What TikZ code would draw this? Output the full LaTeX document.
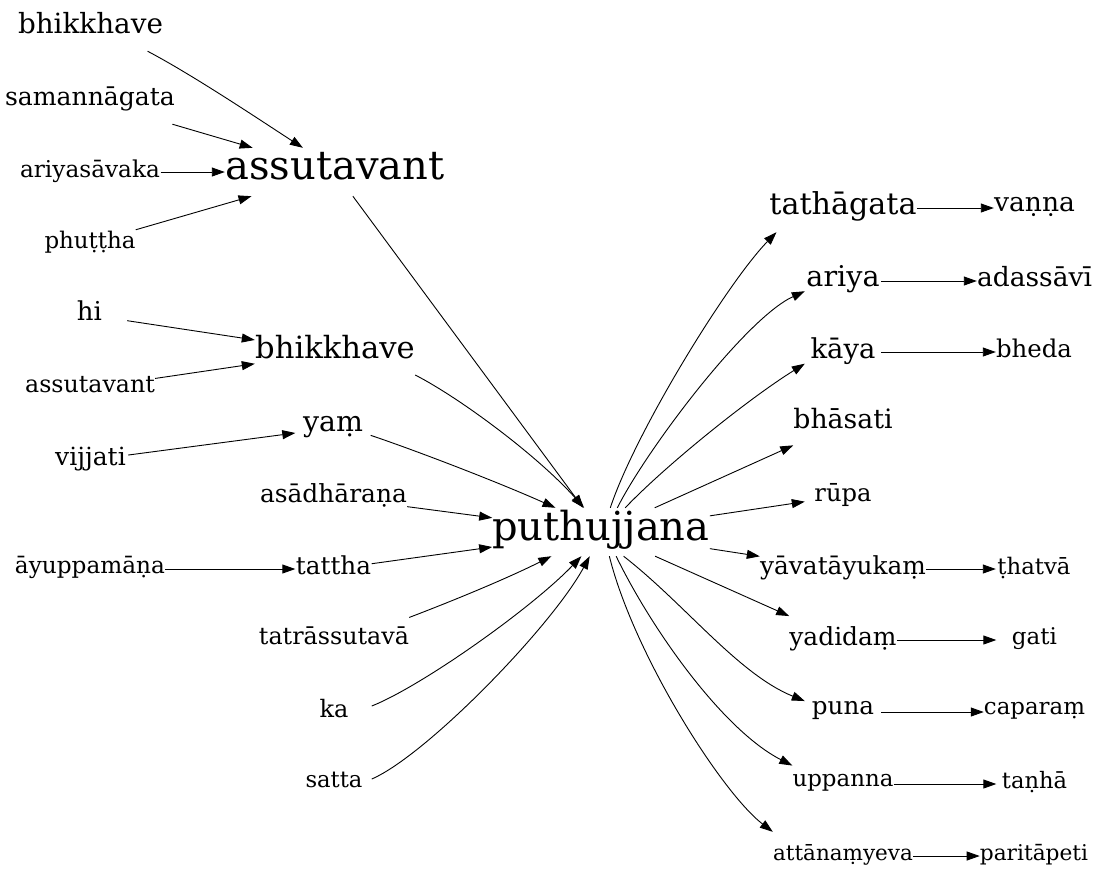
\documentclass[tikz,border=0pt]{standalone}
\usepackage{fontspec}
\setmainfont{DejaVu Serif}
\usetikzlibrary{arrows.meta}
\newcommand{\wsz}[2]{\fontsize{#1}{#1}\selectfont\rule[-0.32em]{0pt}{0.88em}#2}
\begin{document}
\begin{tikzpicture}[x=1pt,y=-1pt,
  wd/.style={inner sep=0pt, minimum height=48pt},
  arr/.style={-{Triangle[length=13pt,width=9pt]}, line width=0.9pt},
]
\useasboundingbox (0,0) rectangle (1099,887);
% left column
\node[wd,minimum width=145pt] (bk1) at (90.5,27) {\wsz{27.8}{bhikkhave}};
\node[wd,minimum width=170pt] (sam) at (90,100) {\wsz{25.1}{samannāgata}};
\node[wd,minimum width=141pt] (ari) at (90,172) {\wsz{23.2}{ariyasāvaka}};
\node[wd,minimum width=91pt] (phu) at (90,243) {\wsz{22.9}{phuṭṭha}};
\node[wd,minimum width=75pt] (hi) at (89.5,315) {\wsz{26}{hi}};
\node[wd,minimum width=130pt] (as2) at (90,388) {\wsz{23.7}{assutavant}};
\node[wd,minimum width=75pt] (vij) at (90.5,460) {\wsz{25}{vijjati}};
\node[wd,minimum width=150pt] (ayu) at (90,569) {\wsz{23.2}{āyuppamāṇa}};
% middle column
\node[wd,minimum width=220pt] (asv) at (335,172) {\wsz{40}{assutavant}};
\node[wd,minimum width=160pt] (bk2) at (335,352) {\wsz{30.6}{bhikkhave}};
\node[wd,minimum width=75pt] (yam) at (333,428) {\wsz{28.4}{yaṃ}};
\node[wd,minimum width=147pt] (asa) at (333.5,497) {\wsz{24.9}{asādhāraṇa}};
\node[wd,minimum width=76pt] (tat) at (333.5,569) {\wsz{24.7}{tattha}};
\node[wd,minimum width=150pt] (tra) at (334,639) {\wsz{23.8}{tatrāssutavā}};
\node[wd,minimum width=75pt] (ka) at (334,712) {\wsz{24}{ka}};
\node[wd,minimum width=75pt] (sat) at (334,783) {\wsz{22.7}{satta}};
% centre
\node[wd,minimum width=217pt] (P) at (601,532) {\wsz{40}{puthujjana}};
% right column
\node[wd,minimum width=147pt] (tg) at (843,208) {\wsz{30.2}{tathāgata}};
\node[wd,minimum width=76pt] (ar) at (843,281) {\wsz{28.6}{ariya}};
\node[wd,minimum width=76pt] (ky) at (843,352) {\wsz{27.4}{kāya}};
\node[wd,minimum width=99pt] (bs) at (843,423) {\wsz{26.7}{bhāsati}};
\node[wd,minimum width=76pt] (ru) at (843,496) {\wsz{24.2}{rūpa}};
\node[wd,minimum width=166pt] (yv) at (843,569) {\wsz{24.8}{yāvatāyukaṃ}};
\node[wd,minimum width=107pt] (yd) at (843,640) {\wsz{24.9}{yadidaṃ}};
\node[wd,minimum width=76pt] (pu) at (843,712) {\wsz{24.6}{puna}};
\node[wd,minimum width=101pt] (up) at (843,784) {\wsz{22.9}{uppanna}};
\node[wd,minimum width=140pt] (at) at (843,856) {\wsz{21.5}{attānaṃyeva}};
% far right column
\node[wd,minimum width=81pt] (vn) at (1034.5,208) {\wsz{26.6}{vaṇṇa}};
\node[wd,minimum width=115pt] (ad) at (1034.5,281) {\wsz{26.5}{adassāvī}};
\node[wd,minimum width=76pt] (bh) at (1034,352) {\wsz{24.4}{bheda}};
\node[wd,minimum width=76pt] (th) at (1034,569) {\wsz{22.8}{ṭhatvā}};
\node[wd,minimum width=76pt] (ga) at (1034.5,640) {\wsz{23}{gati}};
\node[wd,minimum width=101pt] (ca) at (1034.5,712) {\wsz{22.9}{caparaṃ}};
\node[wd,minimum width=76pt] (tn) at (1034.5,784) {\wsz{22.6}{taṇhā}};
\node[wd,minimum width=108pt] (pa) at (1034,856) {\wsz{21.7}{paritāpeti}};
% edges, left
\draw[arr] (bk1.337.4) .. controls (193,75) and (263,122) .. (asv.143.1);
\draw[arr] (sam) -- (asv);
\draw[arr] (ari) -- (asv);
\draw[arr] (phu) -- (asv);
\draw[arr] (asv) -- (P);
\draw[arr] (hi) -- (bk2);
\draw[arr] (as2) -- (bk2);
\draw[arr] (bk2.344) .. controls (460,398) and (538,456) .. (P.125.8);
\draw[arr] (vij) -- (yam);
\draw[arr] (yam.349.3) .. controls (420,452) and (500,483) .. (P.152.4);
\draw[arr] (asa) -- (P);
\draw[arr] (ayu) -- (tat);
\draw[arr] (tat) -- (P);
\draw[arr] (tra.16.1) .. controls (455,600) and (508,578) .. (P.206.6);
\draw[arr] (ka.9) .. controls (422,686) and (532,608) .. (P.231.6);
\draw[arr] (sat.6) .. controls (427,755) and (552,626) .. (P.245.4);
% edges, right
\draw[arr] (P.69.4) .. controls (635,433) and (727,283) .. (tg.200.7);
\draw[arr] (P.56.3) .. controls (647,449) and (746,318) .. (ar.195.1);
\draw[arr] (P.45) .. controls (665,466) and (748,399) .. (ky.197.4);
\draw[arr] (P) -- (bs);
\draw[arr] (P) -- (ru);
\draw[arr] (P) -- (yv);
\draw[arr] (P) -- (yd);
\draw[arr] (P.313.8) .. controls (685,604) and (738,674) .. (pu.164.1);
\draw[arr] (P.302.6) .. controls (652,630) and (723,730) .. (up.160.2);
\draw[arr] (P.289.8) .. controls (634,655) and (722,793) .. (at.161.6);
\draw[arr] (tg) -- (vn);
\draw[arr] (ar) -- (ad);
\draw[arr] (ky) -- (bh);
\draw[arr] (yv) -- (th);
\draw[arr] (yd) -- (ga);
\draw[arr] (pu) -- (ca);
\draw[arr] (up) -- (tn);
\draw[arr] (at) -- (pa);
\end{tikzpicture}
\end{document}
